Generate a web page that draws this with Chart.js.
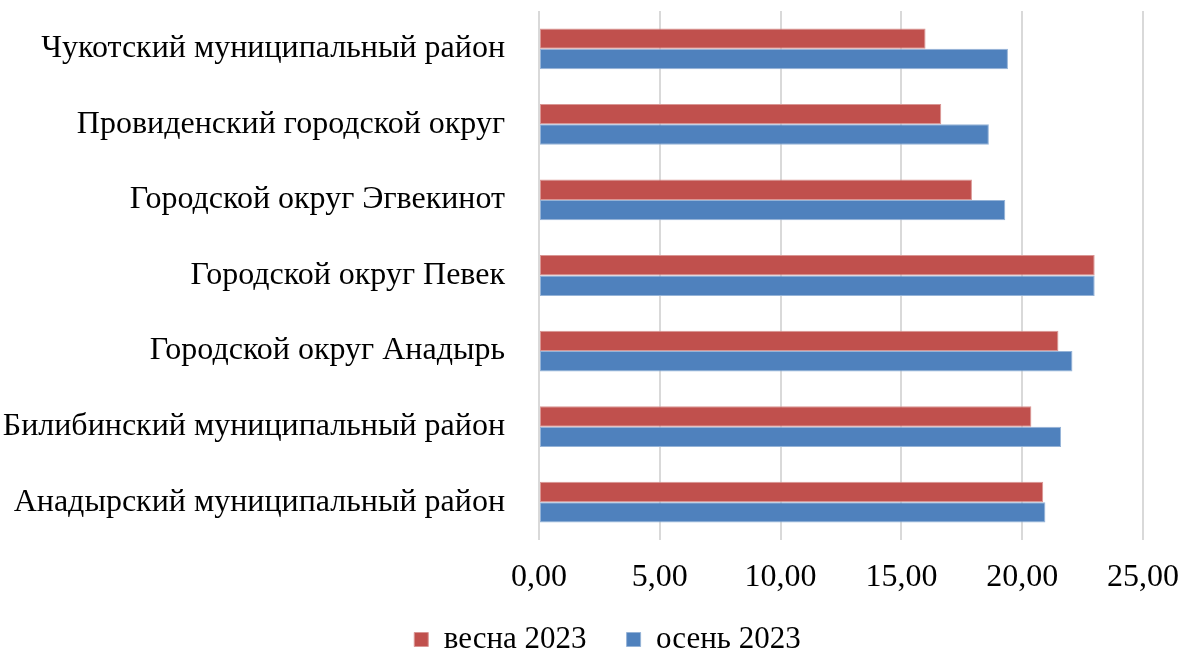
<!DOCTYPE html>
<html>
<head>
<meta charset="utf-8">
<script src="https://cdn.jsdelivr.net/npm/chart.js@4"></script>
<style>
  html, body { margin: 0; padding: 0; background: #fff; }
  #wrap { width: 1187px; height: 653px; }
</style>
</head>
<body>
<div id="wrap"><canvas id="chart"></canvas></div>
<script>
const districts = [
    'Чукотский муниципальный район',
    'Провиденский городской округ',
    'Городской округ Эгвекинот',
    'Городской округ Певек',
    'Городской округ Анадырь',
    'Билибинский муниципальный район',
    'Анадырский муниципальный район'
];
const spring2023 = [16.0, 16.65, 17.92, 23.0, 21.5, 20.38, 20.87];
const autumn2023 = [19.41, 18.62, 19.3, 23.0, 22.08, 21.61, 20.96];
const xTicks = [0, 5, 10, 15, 20, 25];

const serif = "'Liberation Serif', 'Times New Roman', serif";

// move the legend a bit right and up, like in the original picture
// (legend clips to its own box, so the bottom stays at the canvas edge)
const legendShift = {
    id: 'legendShift',
    afterLayout(chart) {
        const lg = chart.legend;
        if (!lg) return;
        lg.left += 36;
        lg.right += 36;
        lg.top -= 14;
        lg.bottom = chart.height;
    }
};

new Chart(document.getElementById('chart'), {
    type: 'bar',
    data: {
        labels: districts,
        datasets: [
            {
                label: 'весна 2023',
                data: spring2023,
                backgroundColor: '#C0504D',
                borderColor: '#D99694',
                borderWidth: 1,
                borderSkipped: false
            },
            {
                label: 'осень 2023',
                data: autumn2023,
                backgroundColor: '#4F81BD',
                borderColor: '#95B3D7',
                borderWidth: 1,
                borderSkipped: false
            }
        ]
    },
    plugins: [legendShift],
    options: {
        indexAxis: 'y',
        responsive: true,
        maintainAspectRatio: false,
        animation: false,
        datasets: {
            bar: { categoryPercentage: 0.54, barPercentage: 1.0 }
        },
        layout: { padding: { top: 11, right: 44, left: 0, bottom: 0 } },
        plugins: {
            tooltip: { enabled: false },
            legend: {
                position: 'bottom',
                maxHeight: 55,
                labels: {
                    boxWidth: 14,
                    boxHeight: 14,
                    padding: 40,
                    color: '#000',
                    font: { family: serif, size: 31 }
                }
            }
        },
        scales: {
            x: {
                min: 0,
                max: 25,
                afterBuildTicks: scale => {
                    scale.ticks = xTicks.map(v => ({ value: v }));
                },
                afterFit: scale => {
                    scale.height = 58;
                    scale.paddingLeft = 0;
                    scale.paddingRight = 0;
                },
                grid: { color: '#D9D9D9', lineWidth: 2, drawTicks: false },
                border: { display: false },
                ticks: {
                    padding: 18,
                    maxRotation: 0,
                    color: '#000',
                    font: { family: serif, size: 32 },
                    callback: v => v.toFixed(2).replace('.', ',')
                }
            },
            y: {
                grid: { display: false },
                border: { display: false },
                afterFit: scale => {
                    scale.width = 539;
                    scale.paddingTop = 0;
                    scale.paddingBottom = 0;
                },
                ticks: {
                    padding: 26,
                    color: '#000',
                    font: { family: serif, size: 32 }
                }
            }
        }
    }
});
</script>
</body>
</html>
